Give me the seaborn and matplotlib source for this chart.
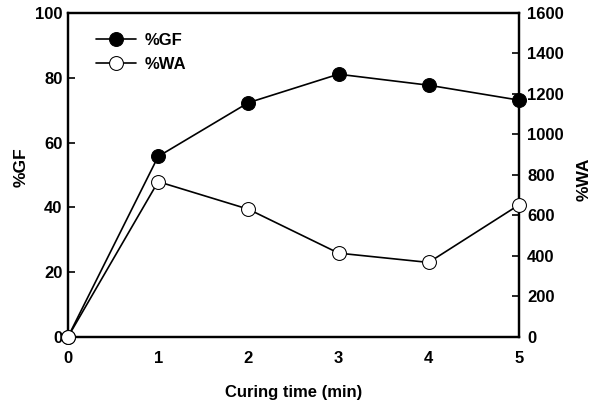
import matplotlib
matplotlib.use("Agg")
import matplotlib.pyplot as plt
import seaborn as sns
import pandas as pd

# data
curing_time = [0, 1, 2, 3, 4, 5]
gf_percent = [0, 55.7, 72.3, 81.1, 77.7, 73.1]
wa_percent = [0, 767, 631, 414, 368, 652]

df = pd.DataFrame({"time": curing_time, "GF": gf_percent, "WA": wa_percent})

sns.set_theme(style="white")
plt.rcParams["font.family"] = ["Liberation Sans", "DejaVu Sans"]
plt.rcParams["font.weight"] = "bold"
plt.rcParams["text.color"] = "black"
plt.rcParams["axes.labelcolor"] = "black"

fig = plt.figure(figsize=(5.91, 4.05), dpi=100)
ax = fig.add_axes([0.115, 0.168, 0.763, 0.80])
ax2 = ax.twinx()

sns.lineplot(data=df, x="time", y="GF", ax=ax, color="black", linewidth=1.2,
             marker="o", markersize=10, markerfacecolor="black",
             markeredgecolor="black", clip_on=False, zorder=3, label="%GF",
             legend=False)
sns.lineplot(data=df, x="time", y="WA", ax=ax2, color="black", linewidth=1.2,
             marker="o", markersize=10, markerfacecolor="white",
             markeredgecolor="black", clip_on=False, zorder=3, label="%WA",
             legend=False)

ax.set_xlim(0, 5)
ax.set_ylim(0, 100)
ax2.set_ylim(0, 1600)
ax.set_xticks(curing_time)
ax.set_yticks([0, 20, 40, 60, 80, 100])
ax2.set_yticks([0, 200, 400, 600, 800, 1000, 1200, 1400, 1600])

for a in (ax, ax2):
    for s in a.spines.values():
        s.set_linewidth(1.6)
        s.set_color("black")
    a.tick_params(direction="in", length=5, width=1.2, colors="black",
                  labelcolor="black", labelsize=12)
ax.tick_params(axis="x", pad=10)
ax.tick_params(axis="y", pad=4)
ax2.tick_params(axis="y", pad=6)

ax.set_xlabel("Curing time (min)", fontsize=12, fontweight="bold")
ax.set_ylabel("%GF", fontsize=12.5, fontweight="bold")
ax2.set_ylabel("%WA", fontsize=12.5, fontweight="bold", rotation=90)
ax.xaxis.set_label_coords(0.5, -0.148)
ax.yaxis.set_label_coords(-0.088, 0.525)
ax2.yaxis.set_label_coords(1.127, 0.488)

for lab in ax.get_xticklabels() + ax.get_yticklabels() + ax2.get_yticklabels():
    lab.set_fontweight("bold")

h1, l1 = ax.get_legend_handles_labels()
h2, l2 = ax2.get_legend_handles_labels()
ax2.legend(h1 + h2, l1 + l2, loc="upper left", frameon=False, fontsize=12,
           handlelength=2.4, bbox_to_anchor=(0.03, 0.985), labelspacing=0.55,
           handletextpad=0.5)
for t in ax2.get_legend().get_texts():
    t.set_fontweight("bold")
    t.set_color("black")

fig.savefig("out.png", dpi=100)
